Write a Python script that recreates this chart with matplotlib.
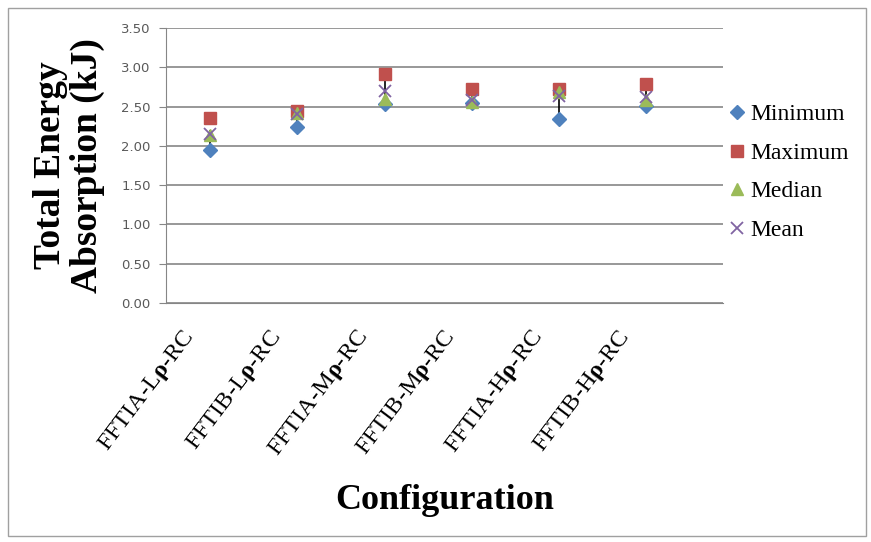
import matplotlib
matplotlib.use("Agg")
import matplotlib.pyplot as plt
import matplotlib.transforms as mtransforms
from matplotlib.patches import Rectangle

# Datos
configs = ['FFTIA-L', 'FFTIB-L', 'FFTIA-M', 'FFTIB-M', 'FFTIA-H', 'FFTIB-H']
minimum = [1.95, 2.24, 2.53, 2.55, 2.34, 2.51]
maximum = [2.35, 2.45, 2.92, 2.72, 2.73, 2.79]
median = [2.14, 2.42, 2.60, 2.56, 2.68, 2.58]
mean = [2.15, 2.40, 2.70, 2.58, 2.64, 2.62]
err_low = [0.20, 0.16, 0.10, 0.03, 0.30, 0.08]
err_high = [0.05, 0.03, 0.20, 0.10, 0.07, 0.10]
yticks = [0.0, 0.5, 1.0, 1.5, 2.0, 2.5, 3.0, 3.5]

plt.rcParams['mathtext.fontset'] = 'custom'
plt.rcParams['mathtext.rm'] = 'Liberation Serif'
plt.rcParams['mathtext.bf'] = 'Liberation Serif:bold'

fig = plt.figure(figsize=(8.71, 5.42), dpi=100)
ax = fig.add_axes([166 / 871, 1 - 303 / 542, 557 / 871, 275 / 542])

x = list(range(1, len(configs) + 1))

ax.errorbar(x, mean, yerr=[err_low, err_high], fmt='none', ecolor='black', elinewidth=1.2, capsize=0, zorder=2)
ax.plot(x, minimum, linestyle='none', marker='D', markersize=7, color='#4F81BD', label='Minimum', zorder=3)
ax.plot(x, maximum, linestyle='none', marker='s', markersize=9, color='#C0504D', label='Maximum', zorder=3)
ax.plot(x, median, linestyle='none', marker='^', markersize=9, color='#9BBB59', label='Median', zorder=4)
ax.plot(x, mean, linestyle='none', marker='x', markersize=8, markeredgewidth=1.3, color='#8064A2', label='Mean', zorder=5)

ax.set_xlim(0.495, 6.88)
ax.set_ylim(0, 3.5)
ax.set_yticks(yticks)
ax.set_yticklabels([f'{v:.2f}' for v in yticks], fontsize=9.5, color='#595959', family='DejaVu Sans')
ax.yaxis.grid(True, color='#868686', linewidth=1.2)
ax.set_axisbelow(True)
ax.tick_params(axis='y', length=5, color='#868686', pad=6)
ax.tick_params(axis='x', length=0, pad=22)

labels = [c + r'$\mathbf{ρ}$-RC' for c in configs]
ax.set_xticks(x)
ax.set_xticklabels(labels, rotation=53, ha='right', va='center', rotation_mode='anchor',
                   fontsize=17.5, family='Liberation Serif')
shift = mtransforms.ScaledTranslation(-20 / 100, 0, fig.dpi_scale_trans)
for lab in ax.get_xticklabels():
    lab.set_transform(lab.get_transform() + shift)

for s in ['top', 'right']:
    ax.spines[s].set_visible(False)
ax.spines['left'].set_color('#868686')
ax.spines['bottom'].set_color('#868686')

ax.set_ylabel('Total Energy\nAbsorption (kJ)', fontsize=27, fontweight='bold',
              family='Liberation Serif', linespacing=1.05, labelpad=12)
ax.set_xlabel('Configuration', fontsize=26, fontweight='bold', family='Liberation Serif', labelpad=16)

leg = ax.legend(loc='center left', bbox_to_anchor=(0.975, 0.475), frameon=False,
                prop={'family': 'Liberation Serif', 'size': 17}, handlelength=0.8,
                handletextpad=0.15, labelspacing=0.72, borderaxespad=0.4)

fig.patches.append(Rectangle((8 / 871, 6 / 542), 858 / 871, 528 / 542, transform=fig.transFigure,
                             fill=False, edgecolor='#A0A0A0', linewidth=1))

fig.savefig('out.png', dpi=100)
